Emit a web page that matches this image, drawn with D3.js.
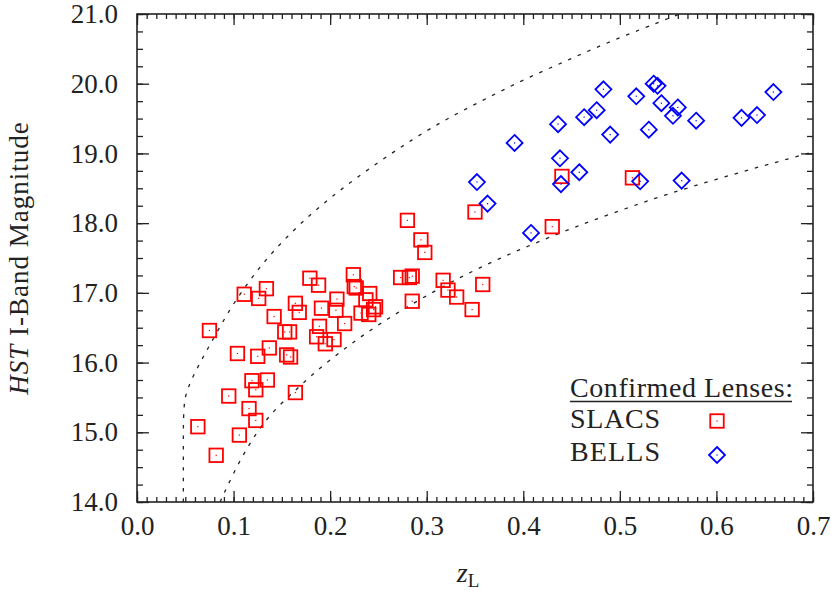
<!DOCTYPE html>
<html>
<head>
<meta charset="utf-8">
<script src="https://cdn.jsdelivr.net/npm/d3@7"></script>
<style>
  html, body { margin: 0; padding: 0; background: #fff; }
  svg { display: block; }
  text { font-family: "Liberation Serif", "DejaVu Serif", serif; fill: #222; }
</style>
</head>
<body>
<svg id="chart" width="831" height="590"></svg>
<script>
// ---------- data ----------
const slacsZ = [0.075,0.063,0.082,0.095,0.106,0.104,0.111,0.126,0.134,0.142,
                0.153,0.158,0.125,0.137,0.155,0.159,0.119,0.123,0.135,0.116,
                0.123,0.164,0.164,0.168,0.179,0.188,0.191,0.189,0.186,0.195,
                0.204,0.207,0.206,0.215,0.224,0.225,0.227,0.241,0.237,0.247,
                0.245,0.232,0.240,0.273,0.282,0.285,0.285,0.280,0.294,0.298,
                0.317,0.322,0.331,0.347,0.358,0.350,0.430,0.440,0.513];
const slacsMag = [16.46,15.08,14.67,15.52,14.96,16.13,16.98,16.92,17.06,16.66,
                  16.44,16.44,16.09,16.21,16.11,16.08,15.74,15.61,15.75,15.34,
                  15.17,15.57,16.85,16.72,17.21,17.11,16.78,16.52,16.37,16.27,
                  16.33,16.91,16.75,16.56,17.26,17.09,17.07,16.99,16.90,16.80,
                  16.76,16.71,16.69,17.22,17.22,17.24,16.88,18.04,17.76,17.58,
                  17.18,17.04,16.94,16.76,17.12,18.16,17.95,18.67,18.65];
const bellsZ = [0.352,0.363,0.391,0.408,0.436,0.438,0.439,0.458,0.463,0.476,
                0.483,0.490,0.517,0.521,0.530,0.535,0.539,0.543,0.555,0.560,
                0.564,0.579,0.626,0.642,0.659];
const bellsMag = [18.59,18.28,19.15,17.86,19.42,18.93,18.56,18.73,19.52,19.62,
                  19.92,19.27,19.82,18.60,19.34,20.00,19.97,19.72,19.54,19.66,
                  18.61,19.47,19.51,19.55,19.88];
// dashed limit curves
const upperZ = [0.048,0.048,0.048,0.052,0.060,0.070,0.083,0.096,0.110,0.125,
                0.140,0.160,0.180,0.200,0.225,0.255,0.285,0.315,0.345,0.376,
                0.407,0.440,0.472,0.507,0.540,0.562];
const upperMag = [14.0,14.8,15.40,15.62,15.86,16.12,16.44,16.76,17.05,17.33,
                  17.58,17.87,18.13,18.36,18.63,18.92,19.20,19.45,19.67,19.89,
                  20.10,20.30,20.50,20.70,20.88,21.0];
const lowerZ = [0.086,0.100,0.114,0.128,0.145,0.164,0.180,0.200,0.220,0.240,
                0.260,0.280,0.305,0.330,0.355,0.383,0.410,0.440,0.470,0.510,
                0.550,0.600,0.650,0.700];
const lowerMag = [14.0,14.42,14.78,15.08,15.36,15.60,15.81,16.04,16.25,16.45,
                  16.63,16.80,17.00,17.19,17.36,17.54,17.70,17.87,18.03,18.23,
                  18.42,18.63,18.83,19.02];
const xTicks = [0.0,0.1,0.2,0.3,0.4,0.5,0.6,0.7];
const yTicks = [14,15,16,17,18,19,20,21];
const legendTitle = "Confirmed Lenses:";
const seriesNames = ["SLACS","BELLS"];

// ---------- layout ----------
const W = 831, H = 590;
const m = {left: 137, right: 18, top: 14, bottom: 88};
const iw = W - m.left - m.right, ih = H - m.top - m.bottom;

const svg = d3.select("#chart");
const g = svg.append("g").attr("transform", `translate(${m.left},${m.top})`);

const x = d3.scaleLinear().domain([0, 0.7]).range([0, iw]);
const y = d3.scaleLinear().domain([14, 21]).range([ih, 0]);

svg.append("defs").append("clipPath").attr("id","clip")
  .append("rect").attr("width", iw).attr("height", ih);

const xMinor = d3.range(0, 71).map(i => i / 100);
const yMinor = d3.range(0, 29).map(i => 14 + i * 0.25);

function styleAxis(sel) {
  sel.select(".domain").remove();
  sel.selectAll("line").attr("stroke", "#222").attr("stroke-width", 1.3);
  sel.selectAll("text").attr("font-size", 27).attr("fill", "#222")
     .attr("font-family", '"Liberation Serif", serif');
}

// minor ticks
g.append("g").attr("transform", `translate(0,${ih})`)
  .call(d3.axisBottom(x).tickValues(xMinor).tickSize(-5).tickFormat("")).call(styleAxis);
g.append("g")
  .call(d3.axisTop(x).tickValues(xMinor).tickSize(-5).tickFormat("")).call(styleAxis);
g.append("g")
  .call(d3.axisLeft(y).tickValues(yMinor).tickSize(-6).tickFormat("")).call(styleAxis);
g.append("g").attr("transform", `translate(${iw},0)`)
  .call(d3.axisRight(y).tickValues(yMinor).tickSize(-6).tickFormat("")).call(styleAxis);

// major ticks
g.append("g").attr("transform", `translate(0,${ih})`)
  .call(d3.axisBottom(x).tickValues(xTicks).tickSize(-11).tickPadding(14).tickFormat(d3.format(".1f")))
  .call(styleAxis);
g.append("g")
  .call(d3.axisTop(x).tickValues(xTicks).tickSize(-11).tickFormat("")).call(styleAxis);
g.append("g")
  .call(d3.axisLeft(y).tickValues(yTicks).tickSize(-12).tickPadding(19).tickFormat(d3.format(".1f")))
  .call(styleAxis);
g.append("g").attr("transform", `translate(${iw},0)`)
  .call(d3.axisRight(y).tickValues(yTicks).tickSize(-12).tickFormat("")).call(styleAxis);

// frame
g.append("rect").attr("width", iw).attr("height", ih)
  .attr("fill", "none").attr("stroke", "#222").attr("stroke-width", 1.6);

// dashed curves
const line = d3.line().x(d => x(d[0])).y(d => y(d[1])).curve(d3.curveBasis);
const curves = [d3.zip(upperZ, upperMag), d3.zip(lowerZ, lowerMag)];
g.append("g").attr("clip-path", "url(#clip)")
  .selectAll("path").data(curves).join("path")
  .attr("d", line).attr("fill", "none").attr("stroke", "#222")
  .attr("stroke-width", 1.3).attr("stroke-dasharray", "3.5,7");

// markers
const sq = 13.5, dm = 8;
function drawSquare(sel, cx, cy) {
  sel.append("rect").attr("x", cx - sq/2).attr("y", cy - sq/2).attr("width", sq).attr("height", sq)
    .attr("fill", "none").attr("stroke", "#ff0000").attr("stroke-width", 1.8);
  sel.append("rect").attr("x", cx - 0.6).attr("y", cy - 0.6).attr("width", 1.2).attr("height", 1.2)
    .attr("fill", "#ff0000");
}
function drawDiamond(sel, cx, cy) {
  sel.append("path").attr("d", `M${cx},${cy-dm}L${cx+dm},${cy}L${cx},${cy+dm}L${cx-dm},${cy}Z`)
    .attr("fill", "none").attr("stroke", "#0000ff").attr("stroke-width", 1.8);
  sel.append("rect").attr("x", cx - 0.6).attr("y", cy - 0.6).attr("width", 1.2).attr("height", 1.2)
    .attr("fill", "#0000ff");
}
const pts = g.append("g");
slacsZ.forEach((z, i) => drawSquare(pts.append("g"), x(z), y(slacsMag[i])));
bellsZ.forEach((z, i) => drawDiamond(pts.append("g"), x(z), y(bellsMag[i])));

// legend
const lg = svg.append("g");
lg.append("text").attr("x", 570).attr("y", 397).attr("font-size", 28).text(legendTitle)
  .attr("textLength", 223).attr("lengthAdjust", "spacing");
lg.append("line").attr("x1", 570).attr("x2", 792).attr("y1", 401.5).attr("y2", 401.5)
  .attr("stroke", "#222").attr("stroke-width", 1.3);
lg.append("text").attr("x", 570).attr("y", 428).attr("font-size", 28).text(seriesNames[0])
  .attr("textLength", 90).attr("lengthAdjust", "spacing");
lg.append("text").attr("x", 570).attr("y", 461).attr("font-size", 28).text(seriesNames[1])
  .attr("textLength", 90).attr("lengthAdjust", "spacing");
drawSquare(lg.append("g"), 717, 421);
drawDiamond(lg.append("g"), 717, 455);

// axis titles
const yt = svg.append("text").attr("transform", "translate(28,258) rotate(-90)")
  .attr("text-anchor", "middle").attr("font-size", 27).attr("letter-spacing", 1);
yt.append("tspan").attr("font-style", "italic").text("HST");
yt.append("tspan").text(" I-Band Magnitude");

const xt = svg.append("text").attr("x", 468).attr("y", 582).attr("text-anchor", "middle").attr("font-size", 28);
xt.append("tspan").attr("font-style", "italic").text("z");
xt.append("tspan").attr("font-size", 19).attr("dy", 5).text("L");
</script>
</body>
</html>
